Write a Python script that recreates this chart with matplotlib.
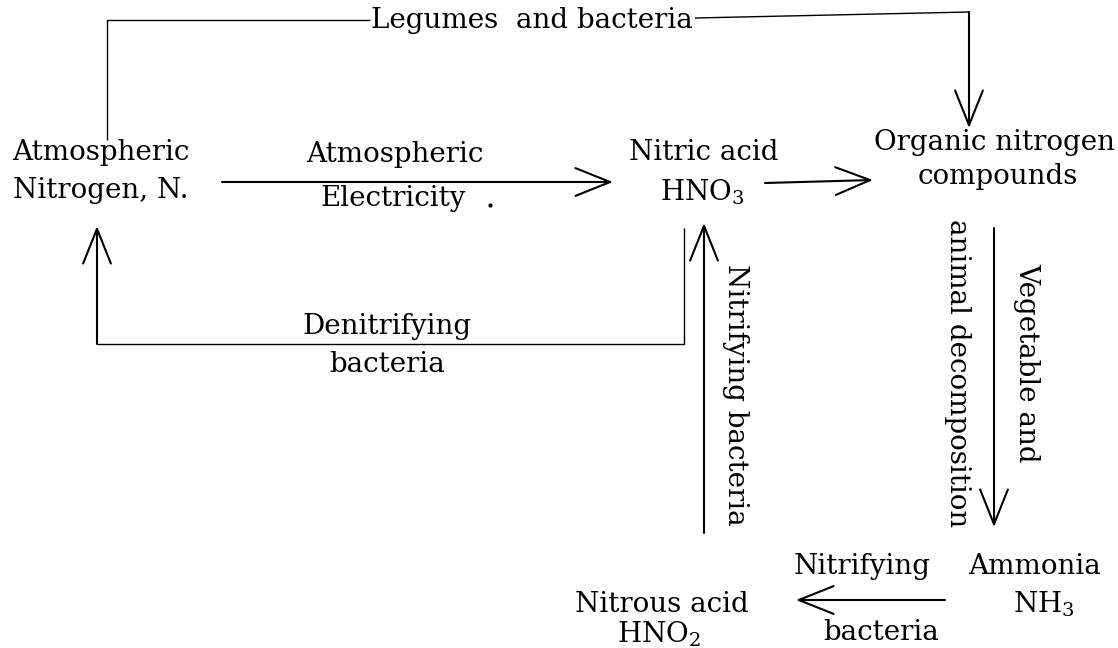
import matplotlib
matplotlib.use("Agg")
import matplotlib.pyplot as plt

plt.rcParams['font.family'] = ['DejaVu Serif']
plt.rcParams['mathtext.fontset'] = 'dejavuserif'

# ---- content: every text line of the diagram ----
texts = ["Atmospheric", "Nitrogen, N.",
         "Nitric acid", "HNO$_3$",
         "Organic nitrogen", "compounds",
         "Ammonia", "NH$_3$",
         "Nitrous acid", "HNO$_2$",
         "Legumes  and bacteria",
         "Atmospheric", "Electricity",
         "Denitrifying", "bacteria",
         "Nitrifying", "bacteria"]
text_x = [101, 101, 704, 702, 995, 998, 1034, 1044, 662, 659, 532, 395, 393, 387, 387, 862, 881]
text_y = [153, 191, 153, 192, 143, 177, 567, 604, 605, 634, 21, 155, 198, 327, 365, 567, 632]

# vertical labels (reading top to bottom)
v_labels = ["Nitrifying bacteria", "animal decomposition", "Vegetable and"]
v_x = [735, 958, 1027]
v_y = [395, 373, 363]

# arrows (start -> tip)
arrow_start = [(222, 182), (765, 183), (969, 12), (97, 344), (704, 533), (994, 228), (945, 600)]
arrow_tip = [(613, 182), (873, 180), (969, 128), (97, 226), (704, 223), (994, 527), (796, 600)]

# plain connector polylines
line_x = [[107, 107, 370], [695, 969], [97, 684, 684]]
line_y = [[140, 20, 20], [18, 12], [344, 344, 228]]

# speck next to "Electricity"
speck_x = [490]
speck_y = [205]

W, H = 1118, 648
fig = plt.figure(figsize=(W / 100, H / 100), dpi=100)
ax = fig.add_axes([0, 0, 1, 1])
ax.set_xlim(0, W)
ax.set_ylim(H, 0)
ax.axis('off')

fs = 20
for lab, x, y in zip(texts, text_x, text_y):
    ax.text(x, y, lab, ha='center', va='center', fontsize=fs)

for lab, x, y in zip(v_labels, v_x, v_y):
    ax.text(x, y, lab, ha='center', va='center', fontsize=fs, rotation=270)

for xs, ys in zip(line_x, line_y):
    ax.plot(xs, ys, color='black', lw=1.0, solid_capstyle='butt')

for s, t in zip(arrow_start, arrow_tip):
    ax.annotate("", xy=t, xytext=s,
                arrowprops=dict(arrowstyle="->,head_length=1.25,head_width=0.5",
                                mutation_scale=20, lw=1.5, color='black',
                                shrinkA=0, shrinkB=0))

ax.plot(speck_x, speck_y, marker='o', ms=2, color='black', lw=0)

fig.savefig("out.png", dpi=100)
